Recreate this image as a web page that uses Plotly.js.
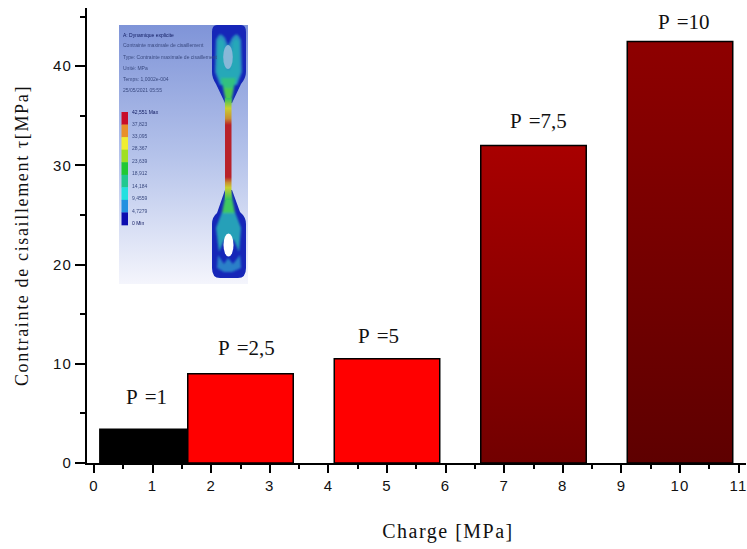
<!DOCTYPE html>
<html>
<head>
<meta charset="utf-8">
<script src="https://cdn.plot.ly/plotly-3.0.1.min.js"></script>
<style>html,body{margin:0;padding:0;background:#fff}#chart{width:747px;height:549px}</style>
</head>
<body>
<div id="chart"></div>
<script>
// Chart data
const charge = [1, 2.5, 5, 7.5, 10];
const contrainte = [3.4, 9, 10.5, 32, 42.5];
const barTop = ['#000000', '#ff0000', '#ff0000', '#a80000', '#8e0000'];
const barBottom = ['#000000', '#ff0000', '#ff0000', '#720000', '#5e0000'];
const labelText = ['P\u2004=1', 'P\u2004=2,5', 'P\u2004=5', 'P\u2004=7,5', 'P\u2004=10'];
const labelX = [0.89, 2.6, 4.86, 7.58, 10.07];
const labelY = [6.7, 11.6, 12.8, 34.5, 44.5];

// Text of the simulation inset
const insetHeader = ['A: Dynamique explicite', 'Contrainte maximale de cisaillement', 'Type: Contrainte maximale de cisaillement', 'Unité: MPa', 'Temps: 1,0002e-004', '25/05/2021 05:55'];
const insetHeaderY = [35, 45, 57, 68, 79, 90];
const insetLegend = ['42,551 Max', '37,823', '33,095', '28,367', '23,639', '18,912', '14,184', '9,4559', '4,7279', '0 Min'];
const insetLegendY = [112, 124, 136, 148, 161, 173, 186, 198, 211, 223];
const insetColors = ['#c8102a', '#e8902a', '#f0ee30', '#a0e020', '#22c830', '#22c890', '#20e0e0', '#2090e0', '#1010b0'];

const W = 747, H = 549;
const L = 87, R = 746, T = 8, B = 463;

const legendBlocks = insetColors.map((c, i) => {
  const h = (225 - 112) / insetColors.length;
  return `<rect x="121.5" y="${112 + i * h}" width="6.5" height="${h + 0.3}" fill="${c}"/>`;
}).join('');

const insetSvg = `<svg xmlns="http://www.w3.org/2000/svg" width="258" height="518" viewBox="119 25 129 259" preserveAspectRatio="none">
<defs>
<linearGradient id="bg" x1="0" y1="0" x2="0" y2="1"><stop offset="0" stop-color="#7f94d8"/><stop offset="0.5" stop-color="#b4c2ea"/><stop offset="1" stop-color="#f4f5fc"/></linearGradient>
<linearGradient id="neck" x1="0" y1="0" x2="0" y2="1">
<stop offset="0" stop-color="#30c060"/><stop offset="0.1" stop-color="#c8d030"/><stop offset="0.2" stop-color="#c89030"/><stop offset="0.265" stop-color="#b8202a"/>
<stop offset="0.775" stop-color="#b8202a"/><stop offset="0.83" stop-color="#c89030"/><stop offset="0.88" stop-color="#c8d030"/><stop offset="1" stop-color="#30c060"/></linearGradient>
<filter id="b" x="-20%" y="-20%" width="140%" height="140%"><feGaussianBlur stdDeviation="1.1"/></filter>
<filter id="s" x="-20%" y="-20%" width="140%" height="140%"><feGaussianBlur stdDeviation="0.5"/></filter>
</defs>
<rect x="119" y="25" width="129" height="259" fill="url(#bg)"/>
<g filter="url(#s)">${legendBlocks}</g>
<g filter="url(#s)">
<path d="M217 25H241Q246 25 246 32V72Q246 78 241 84L232 103H225L216 84Q212 78 212 72V32Q212 25 217 25Z" fill="#1428b8"/>
<path d="M217 213Q212 217 212 224V268Q212 278 220 278H238Q246 278 246 268V224Q246 217 240 212L232 190H225Z" fill="#1428b8"/>
</g>
<g filter="url(#b)">
<path d="M216 40Q220 30 225 38L228 46L232 38Q237 30 241 40L242 72L237 85L220 85L215 72Z" fill="#2a90c0"/>
<path d="M218 42Q220 36 224 42L227 70H230L233 42Q237 36 239 42L240 72L236 85L221 85L217 72Z" fill="#25a8b8"/>
<path d="M221 78H236L231 102H226Z" fill="#30c080"/>
<path d="M224 88H233L231 104H226Z" fill="#50c850"/>
<path d="M216 228L222 212H235L241 228L239 252L234 240H224L219 252Z" fill="#25a0b8"/>
<path d="M222 213H235L231 192H226Z" fill="#40c860"/>
<path d="M218 255L224 264L228 258L233 264L240 255L241 268L232 272H224L217 268Z" fill="#2a80c8"/>
</g>
<rect x="225" y="98" width="6.5" height="102" fill="url(#neck)" filter="url(#s)"/>
<ellipse cx="228" cy="57" rx="4.8" ry="12" fill="#88b8d8" filter="url(#s)"/>
<ellipse cx="228.5" cy="245" rx="5" ry="11.5" fill="#ffffff" filter="url(#s)"/>
</svg>`;

const labelAnnotations = labelText.map((t, i) => ({
  x: labelX[i], y: labelY[i], xref: 'x', yref: 'y', text: t, showarrow: false,
  font: {family: '"Liberation Serif", serif', size: 21, color: '#111'}, xanchor: 'center', yanchor: 'middle'
}));
const px = v => (v - L) / (R - L);
const py = v => (B - v) / (B - T);
const insetFont = c => ({family: '"Liberation Sans", sans-serif', size: 5, color: c});
const headerAnnotations = insetHeader.map((t, i) => ({
  x: px(121), y: py(insetHeaderY[i]), xref: 'paper', yref: 'paper', text: t, showarrow: false, xanchor: 'left', yanchor: 'middle',
  font: insetFont(i === 0 ? '#101a60' : '#3a4a80')
}));
const legendAnnotations = insetLegend.map((t, i) => ({
  x: px(130), y: py(insetLegendY[i]), xref: 'paper', yref: 'paper', text: t, showarrow: false, xanchor: 'left', yanchor: 'middle',
  font: insetFont((i === 0 || i === 9) ? '#101a60' : '#3a4a80')
}));

const trace = {
  type: 'bar', x: charge, y: contrainte, width: 1.8,
  marker: {color: barTop, line: {color: '#000', width: 1.5}},
  hoverinfo: 'x+y'
};
const tickFont = {family: '"Liberation Sans", Arial, sans-serif', size: 15, color: '#111'};

const layout = {
  width: W, height: H, paper_bgcolor: '#fff', plot_bgcolor: '#fff', showlegend: false,
  margin: {l: L, r: W - R, t: T, b: H - B, pad: 0},
  xaxis: {
    range: [(L - 94) / 58.6, (R - 94) / 58.6], dtick: 1, tick0: 0, ticks: 'outside', ticklen: 8, tickwidth: 2, tickcolor: '#000',
    showline: true, linecolor: '#000', linewidth: 2, showgrid: false, zeroline: false, tickfont: tickFont,
    minor: {dtick: 0.5, tick0: 0, ticks: 'outside', ticklen: 4, tickwidth: 2, tickcolor: '#000', showgrid: false},
    title: {text: 'Charge [MPa]', font: {family: '"Liberation Serif", serif', size: 20, color: '#111'}, standoff: 31}
  },
  yaxis: {
    range: [0, (B - T) / 9.92], dtick: 10, tick0: 0, ticks: 'outside', ticklen: 10, tickwidth: 2, tickcolor: '#000',
    showline: true, linecolor: '#000', linewidth: 2, showgrid: false, zeroline: false, tickfont: tickFont,
    minor: {dtick: 5, tick0: 0, ticks: 'outside', ticklen: 5, tickwidth: 2, tickcolor: '#000', showgrid: false},
    title: {text: 'Contrainte de cisaillement τ[MPa]', font: {family: '"Liberation Serif", serif', size: 18, color: '#111'}, standoff: 22}
  },
  images: [{
    source: 'data:image/svg+xml;charset=utf-8,' + encodeURIComponent(insetSvg),
    xref: 'paper', yref: 'paper', x: px(119), y: py(25), sizex: 129 / (R - L), sizey: 259 / (B - T),
    xanchor: 'left', yanchor: 'top', sizing: 'stretch', layer: 'above'
  }],
  annotations: labelAnnotations.concat(headerAnnotations, legendAnnotations)
};

Plotly.newPlot('chart', [trace], layout, {displayModeBar: false, responsive: false}).then(gd => {
  const svg = gd.querySelector('svg.main-svg');
  const defs = svg.querySelector('defs');
  const NS = 'http://www.w3.org/2000/svg';
  gd.querySelectorAll('.barlayer .point path').forEach((p, i) => {
    if (barTop[i] === barBottom[i]) return;
    const g = document.createElementNS(NS, 'linearGradient');
    g.setAttribute('id', 'barfade' + i);
    g.setAttribute('x1', '0'); g.setAttribute('y1', '0'); g.setAttribute('x2', '0'); g.setAttribute('y2', '1');
    [[0, barTop[i]], [1, barBottom[i]]].forEach(([o, c]) => {
      const s = document.createElementNS(NS, 'stop');
      s.setAttribute('offset', o); s.setAttribute('stop-color', c);
      g.appendChild(s);
    });
    defs.appendChild(g);
    p.style.fill = 'url(#barfade' + i + ')';
  });
  const xt = gd.querySelector('.xtitle');
  if (xt) { xt.setAttribute('x', 448); xt.style.letterSpacing = '1.5px'; }
  const yt = gd.querySelector('.ytitle');
  if (yt) yt.style.letterSpacing = '1.65px';
  gd.querySelectorAll('.xtick text, .ytick text').forEach(t => { t.style.letterSpacing = '1.2px'; });
  // inset text is soft in the reference
  gd.querySelectorAll('.annotation-text').forEach((t, i) => {
    if (i >= labelText.length) { t.style.filter = 'blur(0.35px)'; }
  });
});
</script>
</body>
</html>
